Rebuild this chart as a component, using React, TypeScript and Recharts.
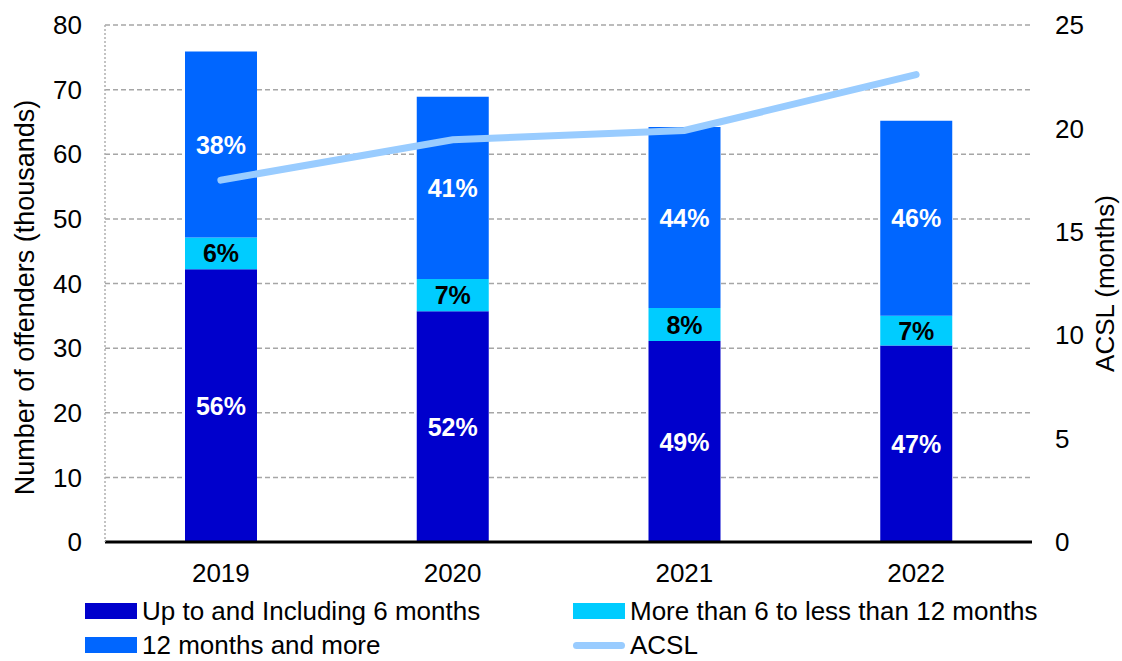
import React from 'react';
import { ComposedChart, Bar, Line, XAxis, YAxis, CartesianGrid, Legend, LabelList } from 'recharts';

const years = ['2019', '2020', '2021', '2022'];
const upTo6 = [42.2, 35.7, 31.1, 30.4];
const sixTo12 = [4.9, 5.0, 5.1, 4.6];
const over12 = [28.8, 28.2, 28.0, 30.2];
const acsl = [17.5, 19.45, 19.9, 22.6];
const pctUpTo6 = ['56%', '52%', '49%', '47%'];
const pctSixTo12 = ['6%', '7%', '8%', '7%'];
const pctOver12 = ['38%', '41%', '44%', '46%'];
const leftTicks = [0, 10, 20, 30, 40, 50, 60, 70, 80];
const rightTicks = [0, 5, 10, 15, 20, 25];

const data = years.map((y, i) => ({
  year: y,
  a: upTo6[i],
  b: sixTo12[i],
  c: over12[i],
  acsl: acsl[i],
  pa: pctUpTo6[i],
  pb: pctSixTo12[i],
  pc: pctOver12[i],
}));

const FONT = 'Arial, "Liberation Sans", sans-serif';
const C_DARK = '#0000CC';
const C_CYAN = '#00CCFF';
const C_BLUE = '#0066FF';
const C_LINE = '#99CCFF';

const legendItems = [
  { label: 'Up to and Including 6 months', color: C_DARK, type: 'rect', x: 85, y: 611 },
  { label: 'More than 6 to less than 12 months', color: C_CYAN, type: 'rect', x: 573, y: 611 },
  { label: '12 months and more', color: C_BLUE, type: 'rect', x: 85, y: 645 },
  { label: 'ACSL', color: C_LINE, type: 'line', x: 573, y: 645 },
];

const LegendContent = () => (
  <div style={{ position: 'relative', width: 1122, height: 660 }}>
    {legendItems.map((it) => (
      <div
        key={it.label}
        style={{
          position: 'absolute',
          left: it.x,
          top: it.y - 15,
          height: 30,
          lineHeight: '30px',
          display: 'flex',
          alignItems: 'center',
          fontFamily: FONT,
          fontSize: 26,
          color: '#000',
          whiteSpace: 'nowrap',
        }}
      >
        {it.type === 'rect' ? (
          <span style={{ display: 'inline-block', width: 52, height: 16, background: it.color, marginRight: 5 }} />
        ) : (
          <span style={{ display: 'inline-block', width: 52, height: 7, borderRadius: 4, background: it.color, marginRight: 5 }} />
        )}
        <span>{it.label}</span>
      </div>
    ))}
  </div>
);

const makeLabel = (fill: string) => (props: any) => {
  const { x, y, width, height, value } = props;
  return (
    <text
      x={x + width / 2}
      y={y + height / 2}
      textAnchor="middle"
      dominantBaseline="central"
      fill={fill}
      fontFamily={FONT}
      fontWeight="bold"
      fontSize={25}
    >
      {value}
    </text>
  );
};

export default function App() {
  return (
    <div style={{ position: 'absolute', left: 0, top: 0, width: 1122, height: 661, background: '#fff', overflow: 'hidden' }}>
      <ComposedChart
        width={1122}
        height={661}
        data={data}
        margin={{ top: 25, right: 0, bottom: 79, left: 0 }}
        barCategoryGap="0%"
      >
        <CartesianGrid vertical={false} stroke="#A6A6A6" strokeDasharray="5 3" strokeWidth={1.5} yAxisId="left" />
        <XAxis
          dataKey="year"
          height={40}
          tickLine={false}
          axisLine={{ stroke: '#000', strokeWidth: 3 }}
          tick={{ fill: '#000', fontSize: 26, fontFamily: FONT }}
          tickMargin={16}
        />
        <YAxis
          yAxisId="left"
          width={105}
          domain={[0, 80]}
          ticks={leftTicks}
          interval={0}
          tickLine={false}
          axisLine={{ stroke: '#B0B0B0', strokeDasharray: '2 2', strokeWidth: 1.5 }}
          tick={{ fill: '#000', fontSize: 26, fontFamily: FONT }}
          tickMargin={17}
          label={{
            value: 'Number of offenders (thousands)',
            angle: -90,
            position: 'insideLeft',
            offset: 0,
            dx: 24,
            dy: 14,
            style: { textAnchor: 'middle', fill: '#000', fontSize: 27, fontFamily: FONT },
          }}
        />
        <YAxis
          yAxisId="right"
          orientation="right"
          width={90}
          domain={[0, 25]}
          ticks={rightTicks}
          interval={0}
          tickLine={false}
          axisLine={false}
          tick={{ fill: '#000', fontSize: 26, fontFamily: FONT, textAnchor: 'start' }}
          tickMargin={17}
          label={{
            value: 'ACSL (months)',
            angle: -90,
            position: 'insideRight',
            offset: 0,
            dx: -17,
            style: { textAnchor: 'middle', fill: '#000', fontSize: 26, fontFamily: FONT },
          }}
        />
        <Legend
          layout="horizontal"
          verticalAlign="middle"
          align="center"
          wrapperStyle={{ left: 0, top: 0, width: 1122, height: 660, pointerEvents: 'none' }}
          content={<LegendContent />}
        />
        <Bar yAxisId="left" dataKey="a" stackId="s" fill={C_DARK} barSize={72} isAnimationActive={false} name="Up to and Including 6 months">
          <LabelList dataKey="pa" content={makeLabel('#fff')} />
        </Bar>
        <Bar yAxisId="left" dataKey="b" stackId="s" fill={C_CYAN} barSize={72} isAnimationActive={false} name="More than 6 to less than 12 months">
          <LabelList dataKey="pb" content={makeLabel('#000')} />
        </Bar>
        <Bar yAxisId="left" dataKey="c" stackId="s" fill={C_BLUE} barSize={72} isAnimationActive={false} name="12 months and more">
          <LabelList dataKey="pc" content={makeLabel('#fff')} />
        </Bar>
        <Line
          yAxisId="right"
          dataKey="acsl"
          stroke={C_LINE}
          strokeWidth={7}
          strokeLinecap="round"
          dot={false}
          isAnimationActive={false}
          name="ACSL"
        />
      </ComposedChart>
    </div>
  );
}
